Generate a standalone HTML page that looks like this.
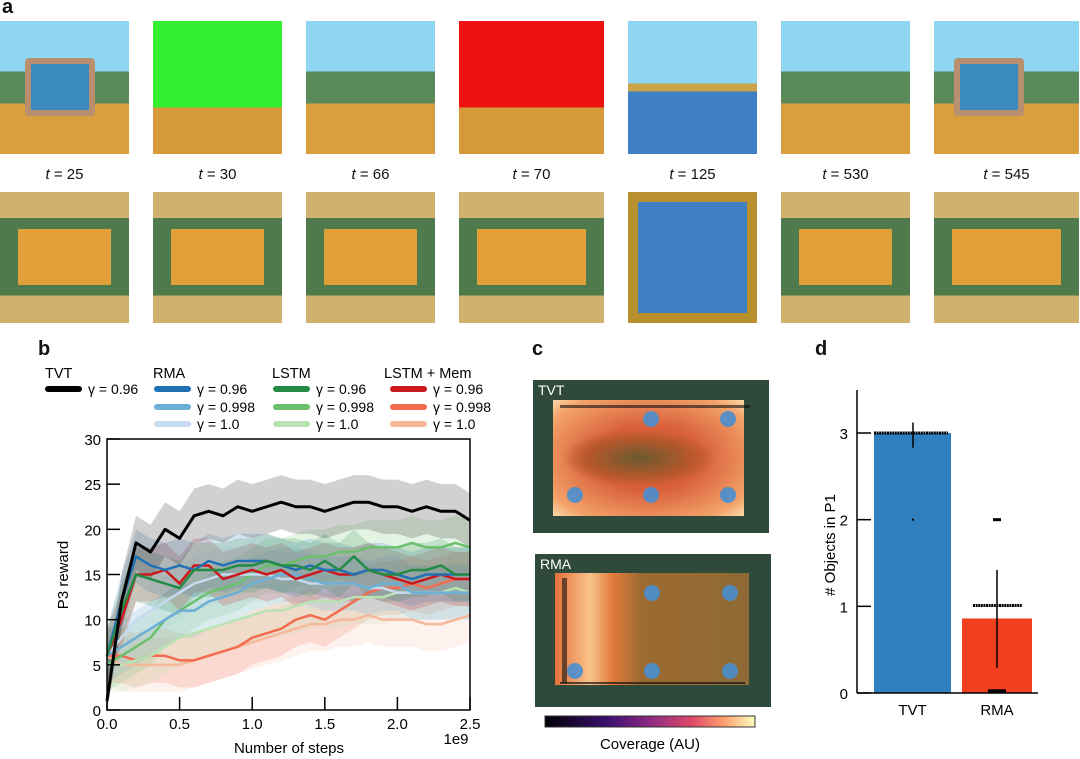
<!DOCTYPE html>
<html><head><meta charset="utf-8">
<style>
body{margin:0;width:1080px;height:759px;background:#fff;position:relative;overflow:hidden;font-family:"Liberation Sans",Arial,sans-serif;color:#111}
.abs{position:absolute}
.lbl{font-size:15px;position:absolute;text-align:center;width:130px}
.pl{font-weight:bold;font-size:20px;position:absolute}
</style></head><body>
<div class="pl" style="left:2px;top:-4px">a</div>
<div class="pl" style="left:38px;top:338px">b</div>
<div class="pl" style="left:532px;top:338px">c</div>
<div class="pl" style="left:815px;top:338px">d</div>
<div id="panelA"></div>

<!-- panel c -->
<div class="abs" style="left:533px;top:380px;width:236px;height:153px;background:#2f4a3a">
 <div class="abs" style="left:20px;top:20px;width:191px;height:116px;background:radial-gradient(ellipse 40% 25% at 45% 50%,#6b5a2e 0%,#b8582c 70%,rgba(0,0,0,0) 100%),radial-gradient(ellipse 70% 70% at 50% 50%,#d9603a 40%,#f3a36a 85%,#fbd7a8 100%)"></div>
 <div class="abs" style="left:5px;top:2px;color:#fff;font-size:14px">TVT</div>
</div>
<div class="abs" style="left:535px;top:554px;width:236px;height:153px;background:#2f4a3a">
 <div class="abs" style="left:20px;top:19px;width:194px;height:112px;background:linear-gradient(90deg,#e5703a 0%,#f8c48a 18%,#e07a3a 30%,#9c6a30 45%,#8e6a34 100%)"></div>
 <div class="abs" style="left:5px;top:2px;color:#fff;font-size:14px">RMA</div>
</div>
<svg class="abs" style="left:520px;top:330px" width="270" height="429">
 <g fill="#4a8fd0" opacity="0.9">
  <circle cx="131" cy="89" r="8"/><circle cx="208" cy="89" r="8"/><circle cx="55" cy="165" r="8"/><circle cx="131" cy="165" r="8"/><circle cx="208" cy="165" r="8"/>
  <circle cx="132" cy="263" r="8"/><circle cx="210" cy="263" r="8"/><circle cx="55" cy="341" r="8"/><circle cx="132" cy="341" r="8"/><circle cx="210" cy="341" r="8"/>
 </g>
 <rect x="40" y="75" width="190" height="3" fill="#111" opacity="0.6"/>
 <rect x="42" y="248" width="5" height="105" fill="#111" opacity="0.6"/>
 <rect x="40" y="352" width="185" height="2" fill="#111" opacity="0.7"/>
 <defs><linearGradient id="mg"><stop offset="0" stop-color="#000004"/><stop offset="0.3" stop-color="#3b0f70"/><stop offset="0.5" stop-color="#8c2981"/><stop offset="0.7" stop-color="#de4968"/><stop offset="0.85" stop-color="#fe9f6d"/><stop offset="1" stop-color="#fcfdbf"/></linearGradient></defs>
 <rect x="25" y="386" width="210" height="11" fill="url(#mg)" stroke="#333"/>
 <text x="130" y="419" text-anchor="middle" font-size="15">Coverage (AU)</text>
</svg>

<svg id="chartB" class="abs" style="left:0;top:0" width="520" height="759"></svg>
<svg id="chartD" class="abs" style="left:780px;top:330px" width="300" height="429"></svg>

<script>
// ---- panel a frames ----
const frameLabels=["t = 25","t = 30","t = 66","t = 70","t = 125","t = 530","t = 545"];
const frameLefts=[0,153,306,459,628,781,934];
const pa=document.getElementById('panelA');
frameLabels.forEach((t,i)=>{
  const w=(i==3||i==6)?145:129, x=frameLefts[i];
  const top=document.createElement('div');
  
  
  top.className='abs';
  let bg;
  if(i==1) bg='linear-gradient(180deg,#33ee33 0,#33ee33 65%,#d69a3a 65%)';
  else if(i==3) bg='linear-gradient(180deg,#ee1111 0,#ee1111 65%,#d69a3a 65%)';
  else if(i==4) bg='linear-gradient(180deg,#8fd6f2 0,#8fd6f2 47%,#c9a44a 47%,#c9a44a 53%,#3f7fc4 53%)';
  else bg='linear-gradient(180deg,#8fd6f2 0,#8fd6f2 38%,#5a8a5a 38%,#5a8a5a 62%,#d99e3e 62%)';
  top.style.cssText=`left:${x}px;top:21px;width:${w}px;height:133px;background:${bg}`;
  pa.appendChild(top);
  if(i==0||i==6){
    const p=document.createElement('div');
    
    
    p.className='abs';
    p.style.cssText=`left:${x+(i==0?25:20)}px;top:58px;width:58px;height:46px;background:#3a8ac0;border:6px solid #b89070;border-radius:4px`;
    pa.appendChild(p);
  }
  const lab=document.createElement('div');
  
  
  lab.className='lbl';
  lab.style.left=(x+(w-130)/2)+'px';lab.style.top='166px';
  lab.innerHTML='<i>t</i> = '+t.split('= ')[1];
  pa.appendChild(lab);
  const bot=document.createElement('div');
  
  
  bot.className='abs';
  if(i==4) bot.style.cssText=`left:${x}px;top:192px;width:129px;height:131px;background:#3f7fc4;border:10px solid #b8902e;box-sizing:border-box`;
  else {
    bot.style.cssText=`left:${x}px;top:192px;width:${w}px;height:131px;background:linear-gradient(180deg,#d2b06e 0,#d2b06e 20%,#4e7a4c 20%,#4e7a4c 79%,#d2b06e 79%)`;
    const inner=document.createElement('div');
    inner.className='abs';
    inner.style.cssText=`left:18px;top:37px;width:${w-36}px;height:56px;background:#e2a03a`;
    bot.appendChild(inner);
  }
  pa.appendChild(bot);
});

// ---- chart b data ----
const steps=[0,0.1,0.2,0.3,0.4,0.5,0.6,0.7,0.8,0.9,1.0,1.1,1.2,1.3,1.4,1.5,1.6,1.7,1.8,1.9,2.0,2.1,2.2,2.3,2.4,2.5];
const tvt=[1,12,18.5,17.5,20,19,21.5,22,21.5,22.5,22,22.5,23,22.5,22.5,22,22.5,23,23,22.5,22.5,22,22.5,22,22,21];
const rma096=[6,12,17,16,15.5,16,15.5,16.5,16,16.5,16.5,16.5,16,15.5,16,15.5,15.5,15,15.5,15.5,15,14.5,15,15,15,15];
const rma0998=[6,7,8,9,10,11,11,12,12.5,13,14,14.5,15,15,14.5,14,14,14,13.5,14,14,13,13,13,13,13];
const rma10=[6,8,10,11,12,13,14,14.5,15,15,15,15,14.5,14.5,14,14,14,14,13.5,13.5,13,13,13,13,13,13];
const lstm096=[6,11,15,14.5,14,13.5,15.5,15.5,15.5,16,16,16.5,16,16,15.5,16.5,15.5,17,15.5,15,15,15.5,15.5,16,15,15];
const lstm0998=[5,6,7,8,10,11,12,13,13.5,14,15,16,16,16.5,17,17,17.5,17.5,18,18,18,18.5,18,18,18.5,18];
const lstm10=[5,5,5.5,6,7,8,8.5,9,9.5,10,10.5,11,11,11.5,12,12,12,12.5,12.5,12.5,13,13,13,13,13.5,13];
const mem096=[6,10,15,15,15.5,14,16,16,14.5,15,15.5,15,15.5,14.5,15,15.5,15,15,15.5,15,14.5,14,14.5,15,14.5,14.5];
const mem0998=[6,6,5.5,6,6,5.5,5.5,6,6.5,7,8,8.5,9,10,10.5,10,11,12,13,13.5,13.5,14,13.5,14,14.5,14.5];
const mem10=[6,5,5,5,5,5,5.5,6,6.5,7,7.5,8,8.5,9,9.5,9.5,10,10,10.5,10,10,10,9.5,9.5,10,10.5];
const spreads=[3,3,3,3,3,3,3,3,3,3];
const yTicks=[0,5,10,15,20,25,30];
const xTicks=[0,0.5,1.0,1.5,2.0,2.5];
const series=[
 ['lstm-mem-g1.0',mem10,'#f6b89a'],['lstm-mem-g0.998',mem0998,'#f26c4f'],['lstm-g1.0',lstm10,'#b9e3b2'],
 ['lstm-g0.998',lstm0998,'#6cc06c'],['rma-g1.0',rma10,'#c6dbef'],['rma-g0.998',rma0998,'#6baed6'],
 ['lstm-mem-g0.96',mem096,'#cb181d'],['rma-g0.96',rma096,'#2171b5'],['lstm-g0.96',lstm096,'#238b45'],['tvt-g0.96',tvt,'#000']];
const X0=107,X1=470,Y0=710,Y1=439;
const xs=v=>X0+(v/2.5)*(X1-X0), ys=v=>Y0-(v/30)*(Y0-Y1);
const NS='http://www.w3.org/2000/svg', B=document.getElementById('chartB');
function mk(p,tag,at){const e=document.createElementNS(NS,tag);for(const k in at)e.setAttribute(k,at[k]);p.appendChild(e);return e;}
series.forEach((s,si)=>{
  const up=s[1].map((v,i)=>xs(steps[i])+','+ys(v+spreads[si])).join(' ');
  const dn=s[1].map((v,i)=>xs(steps[i])+','+ys(Math.max(0,v-spreads[si]))).reverse().join(' ');
  const band=mk(B,'polygon',{points:up+' '+dn,fill:s[2],opacity:0.18});
  
  
});
series.forEach(s=>{
  const ln=mk(B,'polyline',{points:s[1].map((v,i)=>xs(steps[i])+','+ys(v)).join(' '),fill:'none',stroke:s[2],'stroke-width':s[0]=='tvt-g0.96'?3:2.5,'stroke-linejoin':'round'});
  
  
});
mk(B,'rect',{x:X0,y:Y1,width:X1-X0,height:Y0-Y1,fill:'none',stroke:'#000','stroke-width':1.5});
yTicks.forEach(t=>{
  mk(B,'line',{x1:X0,x2:X0+13,y1:ys(t),y2:ys(t),stroke:'#000','stroke-width':1.5});
  const tx=mk(B,'text',{x:101,y:ys(t)+6,'text-anchor':'end','font-size':15});tx.textContent=t;
  
  
});
xTicks.forEach(t=>{
  mk(B,'line',{x1:xs(t),x2:xs(t),y1:Y0,y2:Y0-13,stroke:'#000','stroke-width':1.5});
  const tx=mk(B,'text',{x:xs(t),y:729,'text-anchor':'middle','font-size':15});tx.textContent=t.toFixed(1);
  
  
});
let t=mk(B,'text',{x:456,y:744,'text-anchor':'middle','font-size':15});t.textContent='1e9';


t=mk(B,'text',{x:289,y:753,'text-anchor':'middle','font-size':15});t.textContent='Number of steps';


t=mk(B,'text',{x:0,y:0,'text-anchor':'middle','font-size':15,transform:'translate(68,575) rotate(-90)'});t.textContent='P3 reward';


// legend
const legHeads=[['TVT',45],['RMA',153],['LSTM',272],['LSTM + Mem',384]];
legHeads.forEach(h=>{const e=mk(B,'text',{x:h[1],y:378,'font-size':14.5});e.textContent=h[0];
 
 });
const legEntries=[[45,389,'#000','0.96'],[154,389,'#2171b5','0.96'],[154,407,'#6baed6','0.998'],[154,424,'#c6dbef','1.0'],
 [273,389,'#238b45','0.96'],[273,407,'#6cc06c','0.998'],[273,424,'#b9e3b2','1.0'],
 [390,389,'#cb181d','0.96'],[390,407,'#f26c4f','0.998'],[390,424,'#f6b89a','1.0']];
legEntries.forEach(l=>{
  const g=mk(B,'g',{});
  
  
  mk(g,'line',{x1:l[0]+3,x2:l[0]+34,y1:l[1],y2:l[1],stroke:l[2],'stroke-width':6,'stroke-linecap':'round'});
  const e=mk(g,'text',{x:l[0]+43,y:l[1]+5,'font-size':14});e.textContent='γ = '+l[3];
});

// ---- chart d ----
const barCats=['TVT','RMA'];
const barVals=[3.0,0.86];
const barColors=['#3080c0','#f0401e'];
const dTicks=[0,1,2,3];
const D=document.getElementById('chartD');
const dy=v=>363-v*(363-103)/3;
const barX=[94,182],barW=[77,70];
barCats.forEach((c,i)=>{
  const r=mk(D,'rect',{x:barX[i],y:dy(barVals[i]),width:barW[i],height:dy(0)-dy(barVals[i]),fill:barColors[i]});
  
  
  const e=mk(D,'text',{x:barX[i]+barW[i]/2,y:385,'text-anchor':'middle','font-size':15});e.textContent=c;
  
  
});
mk(D,'line',{x1:77,x2:77,y1:60,y2:363,stroke:'#000','stroke-width':1.5});
mk(D,'line',{x1:77,x2:258,y1:363,y2:363,stroke:'#000','stroke-width':1.5});
dTicks.forEach(v=>{
  mk(D,'line',{x1:77,x2:91,y1:dy(v),y2:dy(v),stroke:'#000','stroke-width':1.5});
  const e=mk(D,'text',{x:68,y:dy(v)+6,'text-anchor':'end','font-size':15});e.textContent=v;
  
  
});
mk(D,'line',{x1:94,x2:168,y1:dy(3),y2:dy(3),stroke:'#000','stroke-width':3,'stroke-dasharray':'2 0.6'});
mk(D,'line',{x1:133,x2:133,y1:dy(3.12),y2:dy(2.83),stroke:'#000','stroke-width':1.5});
mk(D,'rect',{x:132,y:dy(2)-1,width:2,height:2,fill:'#000'});
mk(D,'line',{x1:193,x2:242,y1:dy(1.01),y2:dy(1.01),stroke:'#000','stroke-width':3,'stroke-dasharray':'2 0.6'});
mk(D,'line',{x1:217,x2:217,y1:dy(1.42),y2:dy(0.29),stroke:'#000','stroke-width':1.5});
mk(D,'line',{x1:213,x2:221,y1:dy(2),y2:dy(2),stroke:'#000','stroke-width':3});
mk(D,'line',{x1:208,x2:226,y1:dy(0.02),y2:dy(0.02),stroke:'#000','stroke-width':4});
t=mk(D,'text',{x:0,y:0,'text-anchor':'middle','font-size':15,transform:'translate(55,215) rotate(-90)'});t.textContent='# Objects in P1';


</script>
</body></html>
